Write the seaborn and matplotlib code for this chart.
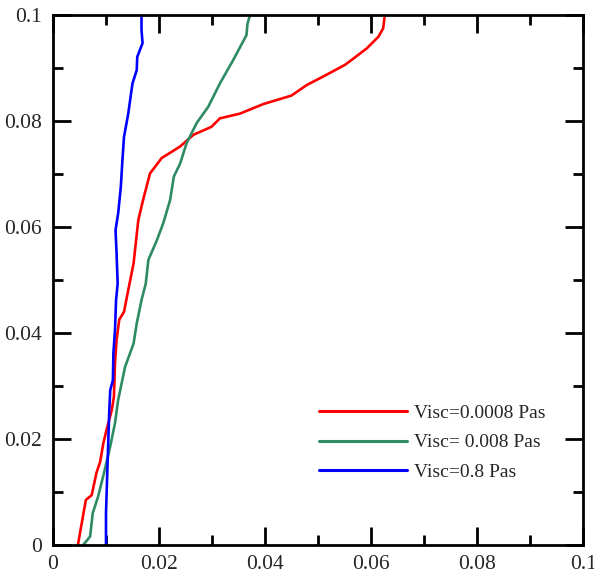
import numpy as np
import pandas as pd
import matplotlib
matplotlib.use("Agg")
import matplotlib.pyplot as plt
import seaborn as sns
from matplotlib.ticker import MultipleLocator

# Data (x = value, y = height)
red_x = [0.0047, 0.0062, 0.0073, 0.0082, 0.0089, 0.0095, 0.0101, 0.0111, 0.0115, 0.0117,
         0.0120, 0.0125, 0.0134, 0.0142, 0.0152, 0.0161, 0.0170, 0.0183, 0.0205, 0.0240,
         0.0265, 0.0299, 0.0315, 0.0353, 0.0397, 0.0450, 0.0479, 0.0510, 0.0551, 0.0567,
         0.0592, 0.0614, 0.0623, 0.0626]
red_y = [0.0, 0.0085, 0.0094, 0.0136, 0.0157, 0.0192, 0.0217, 0.0255, 0.0280, 0.0343,
         0.0387, 0.0425, 0.0440, 0.0481, 0.0531, 0.0613, 0.0651, 0.0701, 0.0730, 0.0752,
         0.0774, 0.0789, 0.0805, 0.0814, 0.0832, 0.0848, 0.0868, 0.0884, 0.0906, 0.0918,
         0.0937, 0.0959, 0.0975, 0.1000]

green_x = [0.0057, 0.0070, 0.0075, 0.0085, 0.0096, 0.0108, 0.0117, 0.0123, 0.0136, 0.0152,
           0.0158, 0.0167, 0.0175, 0.0180, 0.0196, 0.0208, 0.0221, 0.0228, 0.0240, 0.0252,
           0.0271, 0.0293, 0.0315, 0.0340, 0.0365, 0.0367, 0.0372]
green_y = [0.0, 0.0016, 0.0060, 0.0091, 0.0135, 0.0186, 0.0230, 0.0274, 0.0336, 0.0380,
           0.0418, 0.0462, 0.0493, 0.0538, 0.0575, 0.0607, 0.0651, 0.0695, 0.0720, 0.0758,
           0.0796, 0.0827, 0.0871, 0.0915, 0.0962, 0.0984, 0.1000]

blue_x = [0.0100, 0.0100, 0.0102, 0.0104, 0.0106, 0.0108, 0.0113, 0.0114, 0.0117, 0.0119,
          0.0122, 0.0120, 0.0118, 0.0123, 0.0128, 0.0131, 0.0134, 0.0142, 0.0150, 0.0158,
          0.0159, 0.0169, 0.0167, 0.0167]
blue_y = [0.0, 0.0060, 0.0123, 0.0186, 0.0248, 0.0292, 0.0311, 0.0362, 0.0406, 0.0462,
          0.0493, 0.0550, 0.0594, 0.0626, 0.0676, 0.0726, 0.0770, 0.0814, 0.0871, 0.0896,
          0.0921, 0.0947, 0.0972, 0.1000]

labels = ["Visc=0.0008 Pas", "Visc= 0.008 Pas", "Visc=0.8 Pas"]
colors = ["#ff0000", "#2e8b63", "#0000ff"]
ticks = [0, 0.02, 0.04, 0.06, 0.08, 0.1]
tick_labels = ["0", "0.02", "0.04", "0.06", "0.08", "0.1"]

frames = []
for lab, xs, ys in zip(labels, [red_x, green_x, blue_x], [red_y, green_y, blue_y]):
    frames.append(pd.DataFrame({"x": xs, "y": ys, "series": lab, "order": range(len(xs))}))
df = pd.concat(frames, ignore_index=True)

sns.set_style("white")
plt.rcParams["font.family"] = ["Liberation Serif", "DejaVu Serif"]

fig = plt.figure(figsize=(5.94, 5.77), dpi=100)
ax = fig.add_axes([0.0892, 0.0555, 0.8923, 0.9185])

sns.lineplot(data=df, x="x", y="y", hue="series", palette=colors, hue_order=labels,
             sort=False, estimator=None, linewidth=1.9, ax=ax)

ax.set_xlim(0, 0.1)
ax.set_ylim(0, 0.1)
ax.set_xticks(ticks)
ax.set_xticklabels(tick_labels)
ax.set_yticks(ticks)
ax.set_yticklabels(tick_labels)
ax.xaxis.set_minor_locator(MultipleLocator(0.01))
ax.yaxis.set_minor_locator(MultipleLocator(0.01))
ax.set_xlabel("")
ax.set_ylabel("")

ax.tick_params(which="both", direction="in", top=True, right=True, bottom=True, left=True,
               color="black", width=2)
ax.tick_params(which="major", length=13, labelsize=15.5, pad=7)
ax.tick_params(which="minor", length=7)
ax.tick_params(axis="y", which="major", pad=8)

for s in ax.spines.values():
    s.set_visible(True)
    s.set_color("black")
    s.set_linewidth(2)

leg = ax.legend(loc="center", bbox_to_anchor=(0.716, 0.193), frameon=False,
                fontsize=14, handlelength=4.5, handletextpad=0.4, labelspacing=0.62)
for line in leg.get_lines():
    line.set_linewidth(2.2)

fig.savefig("out.png", dpi=100)
